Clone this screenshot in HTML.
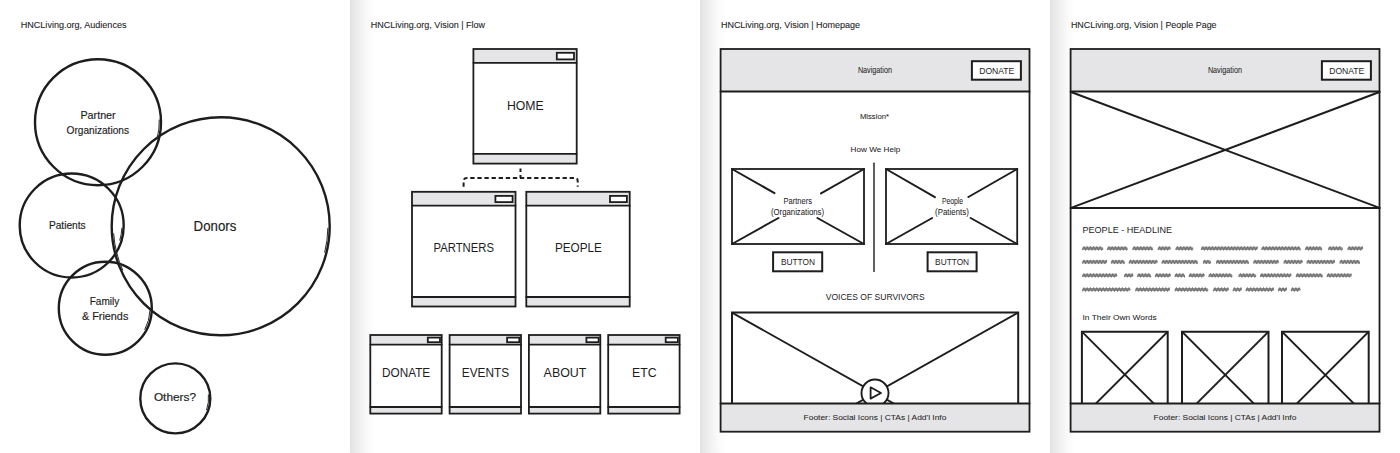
<!DOCTYPE html>
<html><head><meta charset="utf-8"><style>
html,body{margin:0;padding:0;background:#fff;width:1400px;height:453px;overflow:hidden}
.wrap{position:relative;width:1400px;height:453px;background:#fff}
.sh{position:absolute;top:0;width:30px;height:453px;background:linear-gradient(to right,#e2e2e2 0px,#e8e8e8 4px,#eeeeee 8px,#f4f4f4 13px,#fafafa 18px,#fdfdfd 22px,#fff 26px)}
svg{position:absolute;left:0;top:0}
text.h{font-family:"Liberation Sans",sans-serif}
text.s{font-family:"Liberation Sans",sans-serif}
</style></head><body><div class="wrap">
<div class="sh" style="left:350px"></div><div class="sh" style="left:700px"></div><div class="sh" style="left:1050px"></div>
<svg width="1400" height="453" viewBox="0 0 1400 453">
<defs><filter id="bl" x="-10%" y="-50%" width="120%" height="200%"><feGaussianBlur stdDeviation="0.55"/></filter></defs>
<text class="s" x="20.7" y="28.1" font-size="9.01" textLength="105.80" lengthAdjust="spacingAndGlyphs" fill="#1f1f1f" stroke="#1f1f1f" stroke-width="0.1" font-weight="normal">HNCLiving.org, Audiences</text>
<circle cx="98" cy="122.2" r="63" fill="none" stroke="#1d1d1d" stroke-width="2.4"/>
<circle cx="71.7" cy="225.5" r="52" fill="none" stroke="#1d1d1d" stroke-width="2.4"/>
<circle cx="220.7" cy="226.3" r="109" fill="none" stroke="#1d1d1d" stroke-width="2.4"/>
<circle cx="105.3" cy="308.3" r="46.5" fill="none" stroke="#1d1d1d" stroke-width="2.4"/>
<circle cx="175.3" cy="398.4" r="35" fill="none" stroke="#1d1d1d" stroke-width="2.4"/>
<path d="M159.26 120.06 A61.3 61.3 0 0 1 156.93 139.10" fill="none" stroke="#2a2a2a" stroke-width="1.0" stroke-linecap="round"/>
<path d="M121.93 228.13 A50.3 50.3 0 0 1 119.80 240.21" fill="none" stroke="#2a2a2a" stroke-width="1.0" stroke-linecap="round"/>
<path d="M327.88 228.17 A107.2 107.2 0 0 1 324.72 252.23" fill="none" stroke="#2a2a2a" stroke-width="1.0" stroke-linecap="round"/>
<path d="M122.68 269.94 A107.3 107.3 0 0 1 113.66 233.78" fill="none" stroke="#2a2a2a" stroke-width="1.0" stroke-linecap="round"/>
<path d="M150.04 310.64 A44.8 44.8 0 0 1 144.86 329.33" fill="none" stroke="#2a2a2a" stroke-width="1.0" stroke-linecap="round"/>
<path d="M208.42 394.92 A33.3 33.3 0 0 1 206.59 409.79" fill="none" stroke="#2a2a2a" stroke-width="1.0" stroke-linecap="round"/>
<text class="h" x="80.4" y="118.9" font-size="11.00" textLength="35.30" lengthAdjust="spacingAndGlyphs" fill="#1d1d1d" stroke="#1d1d1d" stroke-width="0.16" font-weight="normal">Partner</text>
<text class="h" x="66.5" y="134.3" font-size="10.49" textLength="62.50" lengthAdjust="spacingAndGlyphs" fill="#1d1d1d" stroke="#1d1d1d" stroke-width="0.16" font-weight="normal">Organizations</text>
<text class="h" x="48.9" y="229.2" font-size="10.74" textLength="36.80" lengthAdjust="spacingAndGlyphs" fill="#1d1d1d" stroke="#1d1d1d" stroke-width="0.16" font-weight="normal">Patients</text>
<text class="h" x="193.6" y="230.5" font-size="14.71" textLength="42.70" lengthAdjust="spacingAndGlyphs" fill="#1d1d1d" stroke="#1d1d1d" stroke-width="0.16" font-weight="normal">Donors</text>
<text class="h" x="89.7" y="304.7" font-size="10.74" textLength="29.70" lengthAdjust="spacingAndGlyphs" fill="#1d1d1d" stroke="#1d1d1d" stroke-width="0.16" font-weight="normal">Family</text>
<text class="h" x="82" y="319.7" font-size="11.00" textLength="46.30" lengthAdjust="spacingAndGlyphs" fill="#1d1d1d" stroke="#1d1d1d" stroke-width="0.16" font-weight="normal">&amp; Friends</text>
<text class="h" x="153.9" y="400.5" font-size="10.23" textLength="42.10" lengthAdjust="spacingAndGlyphs" fill="#1d1d1d" stroke="#1d1d1d" stroke-width="0.16" font-weight="normal">Others?</text>
<text class="s" x="370.8" y="28.1" font-size="9.01" textLength="114.20" lengthAdjust="spacingAndGlyphs" fill="#1f1f1f" stroke="#1f1f1f" stroke-width="0.1" font-weight="normal">HNCLiving.org, Vision | Flow</text>
<rect x="473.4" y="49" width="103.30" height="13.80" fill="#e5e5e7"/>
<rect x="473.4" y="153.9" width="103.30" height="9.70" fill="#e5e5e7"/>
<rect x="473.4" y="49" width="103.30" height="114.60" fill="none" stroke="#1d1d1d" stroke-width="1.8"/>
<line x1="473.4" y1="62.8" x2="576.7" y2="62.8" stroke="#1d1d1d" stroke-width="1.8" stroke-linecap="round" stroke-linecap="butt"/>
<line x1="473.4" y1="153.9" x2="576.7" y2="153.9" stroke="#1d1d1d" stroke-width="1.8" stroke-linecap="round" stroke-linecap="butt"/>
<rect x="556.8" y="52.8" width="17.20" height="6.60" fill="#fff" stroke="#1d1d1d" stroke-width="1.8"/>
<text class="h" x="506.9" y="109.5" font-size="12.79" textLength="36.80" lengthAdjust="spacingAndGlyphs" fill="#1d1d1d" stroke="#1d1d1d" stroke-width="0.0" font-weight="normal">HOME</text>
<path d="M520.5 168.5 V178" stroke="#1d1d1d" stroke-width="2" stroke-dasharray="3.5 3" fill="none"/>
<path d="M463.6 186.8 V181 Q463.6 177.9 467 177.9 H574.5 Q577.7 177.9 577.7 181 V186.8" stroke="#1d1d1d" stroke-width="2" stroke-dasharray="4.3 2.8" fill="none"/>
<rect x="412" y="191.8" width="103.50" height="13.90" fill="#e5e5e7"/>
<rect x="412" y="297" width="103.50" height="9.50" fill="#e5e5e7"/>
<rect x="412" y="191.8" width="103.50" height="114.70" fill="none" stroke="#1d1d1d" stroke-width="1.8"/>
<line x1="412" y1="205.7" x2="515.5" y2="205.7" stroke="#1d1d1d" stroke-width="1.8" stroke-linecap="round" stroke-linecap="butt"/>
<line x1="412" y1="297" x2="515.5" y2="297" stroke="#1d1d1d" stroke-width="1.8" stroke-linecap="round" stroke-linecap="butt"/>
<rect x="495.4" y="195.9" width="17.20" height="6.20" fill="#fff" stroke="#1d1d1d" stroke-width="1.8"/>
<rect x="526.3" y="191.8" width="103.40" height="13.90" fill="#e5e5e7"/>
<rect x="526.3" y="297" width="103.40" height="9.50" fill="#e5e5e7"/>
<rect x="526.3" y="191.8" width="103.40" height="114.70" fill="none" stroke="#1d1d1d" stroke-width="1.8"/>
<line x1="526.3" y1="205.7" x2="629.7" y2="205.7" stroke="#1d1d1d" stroke-width="1.8" stroke-linecap="round" stroke-linecap="butt"/>
<line x1="526.3" y1="297" x2="629.7" y2="297" stroke="#1d1d1d" stroke-width="1.8" stroke-linecap="round" stroke-linecap="butt"/>
<rect x="610" y="195.9" width="16.90" height="6.20" fill="#fff" stroke="#1d1d1d" stroke-width="1.8"/>
<text class="h" x="433.6" y="252.1" font-size="13.08" textLength="60.30" lengthAdjust="spacingAndGlyphs" fill="#1d1d1d" stroke="#1d1d1d" stroke-width="0.0" font-weight="normal">PARTNERS</text>
<text class="h" x="554.9" y="251.9" font-size="12.79" textLength="47.00" lengthAdjust="spacingAndGlyphs" fill="#1d1d1d" stroke="#1d1d1d" stroke-width="0.0" font-weight="normal">PEOPLE</text>
<rect x="370.3" y="335" width="71.40" height="9.60" fill="#e5e5e7"/>
<rect x="370.3" y="407" width="71.40" height="6.60" fill="#e5e5e7"/>
<rect x="370.3" y="335" width="71.40" height="78.60" fill="none" stroke="#1d1d1d" stroke-width="1.8"/>
<line x1="370.3" y1="344.6" x2="441.70000000000005" y2="344.6" stroke="#1d1d1d" stroke-width="1.8" stroke-linecap="round" stroke-linecap="butt"/>
<line x1="370.3" y1="407" x2="441.70000000000005" y2="407" stroke="#1d1d1d" stroke-width="1.8" stroke-linecap="round" stroke-linecap="butt"/>
<rect x="427.80000000000007" y="337.6" width="12.20" height="4.60" fill="#fff" stroke="#1d1d1d" stroke-width="1.8"/>
<text class="h" x="382" y="377.1" font-size="12.35" textLength="48.20" lengthAdjust="spacingAndGlyphs" fill="#1d1d1d" stroke="#1d1d1d" stroke-width="0.0" font-weight="normal">DONATE</text>
<rect x="449.6" y="335" width="71.40" height="9.60" fill="#e5e5e7"/>
<rect x="449.6" y="407" width="71.40" height="6.60" fill="#e5e5e7"/>
<rect x="449.6" y="335" width="71.40" height="78.60" fill="none" stroke="#1d1d1d" stroke-width="1.8"/>
<line x1="449.6" y1="344.6" x2="521.0" y2="344.6" stroke="#1d1d1d" stroke-width="1.8" stroke-linecap="round" stroke-linecap="butt"/>
<line x1="449.6" y1="407" x2="521.0" y2="407" stroke="#1d1d1d" stroke-width="1.8" stroke-linecap="round" stroke-linecap="butt"/>
<rect x="507.1" y="337.6" width="12.20" height="4.60" fill="#fff" stroke="#1d1d1d" stroke-width="1.8"/>
<text class="h" x="461.8" y="377.1" font-size="12.35" textLength="47.20" lengthAdjust="spacingAndGlyphs" fill="#1d1d1d" stroke="#1d1d1d" stroke-width="0.0" font-weight="normal">EVENTS</text>
<rect x="528.9" y="335" width="71.40" height="9.60" fill="#e5e5e7"/>
<rect x="528.9" y="407" width="71.40" height="6.60" fill="#e5e5e7"/>
<rect x="528.9" y="335" width="71.40" height="78.60" fill="none" stroke="#1d1d1d" stroke-width="1.8"/>
<line x1="528.9" y1="344.6" x2="600.3" y2="344.6" stroke="#1d1d1d" stroke-width="1.8" stroke-linecap="round" stroke-linecap="butt"/>
<line x1="528.9" y1="407" x2="600.3" y2="407" stroke="#1d1d1d" stroke-width="1.8" stroke-linecap="round" stroke-linecap="butt"/>
<rect x="586.4" y="337.6" width="12.20" height="4.60" fill="#fff" stroke="#1d1d1d" stroke-width="1.8"/>
<text class="h" x="543.6" y="377.1" font-size="12.35" textLength="42.80" lengthAdjust="spacingAndGlyphs" fill="#1d1d1d" stroke="#1d1d1d" stroke-width="0.0" font-weight="normal">ABOUT</text>
<rect x="608.2" y="335" width="71.40" height="9.60" fill="#e5e5e7"/>
<rect x="608.2" y="407" width="71.40" height="6.60" fill="#e5e5e7"/>
<rect x="608.2" y="335" width="71.40" height="78.60" fill="none" stroke="#1d1d1d" stroke-width="1.8"/>
<line x1="608.2" y1="344.6" x2="679.6" y2="344.6" stroke="#1d1d1d" stroke-width="1.8" stroke-linecap="round" stroke-linecap="butt"/>
<line x1="608.2" y1="407" x2="679.6" y2="407" stroke="#1d1d1d" stroke-width="1.8" stroke-linecap="round" stroke-linecap="butt"/>
<rect x="665.7" y="337.6" width="12.20" height="4.60" fill="#fff" stroke="#1d1d1d" stroke-width="1.8"/>
<text class="h" x="632" y="377.1" font-size="12.35" textLength="24.60" lengthAdjust="spacingAndGlyphs" fill="#1d1d1d" stroke="#1d1d1d" stroke-width="0.0" font-weight="normal">ETC</text>
<text class="s" x="720.9" y="28.1" font-size="9.01" textLength="139.10" lengthAdjust="spacingAndGlyphs" fill="#1f1f1f" stroke="#1f1f1f" stroke-width="0.1" font-weight="normal">HNCLiving.org, Vision | Homepage</text>
<rect x="720.6" y="49" width="308.90" height="42.40" fill="#e5e5e7"/>
<rect x="720.6" y="403.4" width="308.90" height="28.30" fill="#e5e5e7"/>
<text class="h" x="859.9" y="118.5" font-size="8.06" textLength="29.10" lengthAdjust="spacingAndGlyphs" fill="#1d1d1d" stroke="#1d1d1d" stroke-width="0.05" font-weight="normal">Mission*</text>
<text class="h" x="850.6" y="151.7" font-size="7.80" textLength="49.70" lengthAdjust="spacingAndGlyphs" fill="#1d1d1d" stroke="#1d1d1d" stroke-width="0.05" font-weight="normal">How We Help</text>
<rect x="732" y="169" width="132.00" height="75.00" fill="none" stroke="#1d1d1d" stroke-width="1.8"/>
<line x1="732" y1="169" x2="774.5" y2="193.1" stroke="#1d1d1d" stroke-width="2" stroke-linecap="round" />
<line x1="864" y1="169" x2="821" y2="193.4" stroke="#1d1d1d" stroke-width="2" stroke-linecap="round" />
<line x1="732" y1="244" x2="778.5" y2="218" stroke="#1d1d1d" stroke-width="2" stroke-linecap="round" />
<line x1="864" y1="244" x2="817.4" y2="218" stroke="#1d1d1d" stroke-width="2" stroke-linecap="round" />
<text class="h" x="783.4" y="203.5" font-size="8.70" textLength="28.60" lengthAdjust="spacingAndGlyphs" fill="#1d1d1d" stroke="#1d1d1d" stroke-width="0.05" font-weight="normal">Partners</text>
<text class="h" x="771" y="214.6" font-size="8.70" textLength="53.00" lengthAdjust="spacingAndGlyphs" fill="#1d1d1d" stroke="#1d1d1d" stroke-width="0.05" font-weight="normal">(Organizations)</text>
<rect x="886" y="169" width="131.20" height="75.00" fill="none" stroke="#1d1d1d" stroke-width="1.8"/>
<line x1="886" y1="169" x2="934.9" y2="197.2" stroke="#1d1d1d" stroke-width="2" stroke-linecap="round" />
<line x1="1017.2" y1="169" x2="968.4" y2="197" stroke="#1d1d1d" stroke-width="2" stroke-linecap="round" />
<line x1="886" y1="244" x2="932.2" y2="218" stroke="#1d1d1d" stroke-width="2" stroke-linecap="round" />
<line x1="1017.2" y1="244" x2="970.6" y2="218" stroke="#1d1d1d" stroke-width="2" stroke-linecap="round" />
<text class="h" x="941.9" y="203.5" font-size="8.70" textLength="21.20" lengthAdjust="spacingAndGlyphs" fill="#1d1d1d" stroke="#1d1d1d" stroke-width="0.05" font-weight="normal">People</text>
<text class="h" x="935.1" y="214.6" font-size="8.70" textLength="33.70" lengthAdjust="spacingAndGlyphs" fill="#1d1d1d" stroke="#1d1d1d" stroke-width="0.05" font-weight="normal">(Patients)</text>
<line x1="874" y1="163.2" x2="874" y2="271.4" stroke="#1d1d1d" stroke-width="1.4" stroke-linecap="round" />
<rect x="773.1" y="252.3" width="49.10" height="19.00" fill="none" stroke="#1d1d1d" stroke-width="2"/>
<rect x="927.6" y="252.3" width="49.00" height="19.00" fill="none" stroke="#1d1d1d" stroke-width="2"/>
<text class="h" x="780.9" y="265.2" font-size="8.72" textLength="34.10" lengthAdjust="spacingAndGlyphs" fill="#1d1d1d" stroke="#1d1d1d" stroke-width="0.0" font-weight="normal">BUTTON</text>
<text class="h" x="935.1" y="265.2" font-size="8.72" textLength="34.00" lengthAdjust="spacingAndGlyphs" fill="#1d1d1d" stroke="#1d1d1d" stroke-width="0.0" font-weight="normal">BUTTON</text>
<text class="h" x="825.7" y="300.4" font-size="9.88" textLength="99.00" lengthAdjust="spacingAndGlyphs" fill="#1d1d1d" stroke="#1d1d1d" stroke-width="0.0" font-weight="normal">VOICES OF SURVIVORS</text>
<path d="M732 403.4 V312.6 H1018.2 V403.4" stroke="#1d1d1d" stroke-width="2" fill="none"/>
<clipPath id="vclip"><rect x="732" y="312" width="287" height="91.4"/></clipPath>
<g clip-path="url(#vclip)"><line x1="732" y1="312.6" x2="1018.2" y2="473.5" stroke="#1d1d1d" stroke-width="1.9"/><line x1="1018.2" y1="312.6" x2="732" y2="473.5" stroke="#1d1d1d" stroke-width="1.9"/>
<circle cx="875" cy="393" r="13.5" fill="#fff" stroke="#1d1d1d" stroke-width="1.9"/></g>
<path d="M870.6 387.3 L881 393 L870.6 398.6 Z" fill="none" stroke="#1d1d1d" stroke-width="1.8" stroke-linejoin="round"/>
<rect x="720.6" y="49" width="308.90" height="382.70" fill="none" stroke="#1d1d1d" stroke-width="1.8"/>
<line x1="720.6" y1="91.4" x2="1029.5" y2="91.4" stroke="#1d1d1d" stroke-width="2" stroke-linecap="round" stroke-linecap="butt"/>
<line x1="720.6" y1="403.4" x2="1029.5" y2="403.4" stroke="#1d1d1d" stroke-width="2" stroke-linecap="round" stroke-linecap="butt"/>
<rect x="971.9" y="61.2" width="49.00" height="18.50" fill="#fff" stroke="#1d1d1d" stroke-width="2"/>
<text class="h" x="857.9" y="72.9" font-size="8.19" textLength="34.10" lengthAdjust="spacingAndGlyphs" fill="#1d1d1d" stroke="#1d1d1d" stroke-width="0.05" font-weight="normal">Navigation</text>
<text class="h" x="979.2" y="73.8" font-size="9.59" textLength="35.10" lengthAdjust="spacingAndGlyphs" fill="#1d1d1d" stroke="#1d1d1d" stroke-width="0.0" font-weight="normal">DONATE</text>
<text class="h" x="803.6" y="420.4" font-size="8.06" textLength="142.80" lengthAdjust="spacingAndGlyphs" fill="#1d1d1d" stroke="#1d1d1d" stroke-width="0.05" font-weight="normal">Footer: Social Icons | CTAs | Add'l Info</text>
<text class="s" x="1070.9" y="28.1" font-size="9.01" textLength="145.70" lengthAdjust="spacingAndGlyphs" fill="#1f1f1f" stroke="#1f1f1f" stroke-width="0.1" font-weight="normal">HNCLiving.org, Vision | People Page</text>
<rect x="1070.6" y="49" width="308.90" height="42.40" fill="#e5e5e7"/>
<rect x="1070.6" y="403.4" width="308.90" height="28.30" fill="#e5e5e7"/>
<line x1="1070.6" y1="207.9" x2="1379.5" y2="207.9" stroke="#1d1d1d" stroke-width="2" stroke-linecap="round" stroke-linecap="butt"/>
<line x1="1071" y1="92" x2="1379.5" y2="207.9" stroke="#1d1d1d" stroke-width="1.9" stroke-linecap="round" />
<line x1="1071" y1="207.9" x2="1379.5" y2="92" stroke="#1d1d1d" stroke-width="1.9" stroke-linecap="round" />
<text class="h" x="1082.5" y="232.9" font-size="9.74" textLength="89.50" lengthAdjust="spacingAndGlyphs" fill="#1d1d1d" stroke="#1d1d1d" stroke-width="0.0" font-weight="normal">PEOPLE - HEADLINE</text>
<g filter="url(#bl)"><rect x="1082.1" y="246.8" width="21.2" height="3.2" rx="1.6" fill="#a0a0a0"/><path d="M1082.40 250.10 L1084.00 246.70 L1085.60 250.10 L1087.20 246.70 L1088.80 250.10 L1090.40 246.70 L1092.00 250.10 L1093.60 246.70 L1095.20 250.10 L1096.80 246.70 L1098.40 250.10 L1100.00 246.70 L1101.60 250.10 L1103.00 248.70" fill="none" stroke="#737373" stroke-width="1.1" stroke-linejoin="round"/></g>
<g filter="url(#bl)"><rect x="1107.1" y="246.8" width="20.6" height="3.2" rx="1.6" fill="#a0a0a0"/><path d="M1107.40 250.10 L1109.00 246.70 L1110.60 250.10 L1112.20 246.70 L1113.80 250.10 L1115.40 246.70 L1117.00 250.10 L1118.60 246.70 L1120.20 250.10 L1121.80 246.70 L1123.40 250.10 L1125.00 246.70 L1126.60 250.10 L1127.40 248.70" fill="none" stroke="#737373" stroke-width="1.1" stroke-linejoin="round"/></g>
<g filter="url(#bl)"><rect x="1132.4" y="246.8" width="20.6" height="3.2" rx="1.6" fill="#a0a0a0"/><path d="M1132.70 250.10 L1134.30 246.70 L1135.90 250.10 L1137.50 246.70 L1139.10 250.10 L1140.70 246.70 L1142.30 250.10 L1143.90 246.70 L1145.50 250.10 L1147.10 246.70 L1148.70 250.10 L1150.30 246.70 L1151.90 250.10 L1152.70 248.70" fill="none" stroke="#737373" stroke-width="1.1" stroke-linejoin="round"/></g>
<g filter="url(#bl)"><rect x="1157.7" y="246.8" width="13.1" height="3.2" rx="1.6" fill="#a0a0a0"/><path d="M1158.00 250.10 L1159.60 246.70 L1161.20 250.10 L1162.80 246.70 L1164.40 250.10 L1166.00 246.70 L1167.60 250.10 L1169.20 246.70 L1170.50 248.70" fill="none" stroke="#737373" stroke-width="1.1" stroke-linejoin="round"/></g>
<g filter="url(#bl)"><rect x="1175.5" y="246.8" width="17.8" height="3.2" rx="1.6" fill="#a0a0a0"/><path d="M1175.80 250.10 L1177.40 246.70 L1179.00 250.10 L1180.60 246.70 L1182.20 250.10 L1183.80 246.70 L1185.40 250.10 L1187.00 246.70 L1188.60 250.10 L1190.20 246.70 L1191.80 250.10 L1193.00 248.70" fill="none" stroke="#737373" stroke-width="1.1" stroke-linejoin="round"/></g>
<g filter="url(#bl)"><rect x="1200.9" y="246.8" width="56.6" height="3.2" rx="1.6" fill="#a0a0a0"/><path d="M1201.20 250.10 L1202.80 246.70 L1204.40 250.10 L1206.00 246.70 L1207.60 250.10 L1209.20 246.70 L1210.80 250.10 L1212.40 246.70 L1214.00 250.10 L1215.60 246.70 L1217.20 250.10 L1218.80 246.70 L1220.40 250.10 L1222.00 246.70 L1223.60 250.10 L1225.20 246.70 L1226.80 250.10 L1228.40 246.70 L1230.00 250.10 L1231.60 246.70 L1233.20 250.10 L1234.80 246.70 L1236.40 250.10 L1238.00 246.70 L1239.60 250.10 L1241.20 246.70 L1242.80 250.10 L1244.40 246.70 L1246.00 250.10 L1247.60 246.70 L1249.20 250.10 L1250.80 246.70 L1252.40 250.10 L1254.00 246.70 L1255.60 250.10 L1257.20 246.70 L1257.20 248.70" fill="none" stroke="#737373" stroke-width="1.1" stroke-linejoin="round"/></g>
<g filter="url(#bl)"><rect x="1261.4" y="246.8" width="39.1" height="3.2" rx="1.6" fill="#a0a0a0"/><path d="M1261.70 250.10 L1263.30 246.70 L1264.90 250.10 L1266.50 246.70 L1268.10 250.10 L1269.70 246.70 L1271.30 250.10 L1272.90 246.70 L1274.50 250.10 L1276.10 246.70 L1277.70 250.10 L1279.30 246.70 L1280.90 250.10 L1282.50 246.70 L1284.10 250.10 L1285.70 246.70 L1287.30 250.10 L1288.90 246.70 L1290.50 250.10 L1292.10 246.70 L1293.70 250.10 L1295.30 246.70 L1296.90 250.10 L1298.50 246.70 L1300.10 250.10 L1300.20 248.70" fill="none" stroke="#737373" stroke-width="1.1" stroke-linejoin="round"/></g>
<g filter="url(#bl)"><rect x="1305.1" y="246.8" width="17.0" height="3.2" rx="1.6" fill="#a0a0a0"/><path d="M1305.40 250.10 L1307.00 246.70 L1308.60 250.10 L1310.20 246.70 L1311.80 250.10 L1313.40 246.70 L1315.00 250.10 L1316.60 246.70 L1318.20 250.10 L1319.80 246.70 L1321.40 250.10 L1321.80 248.70" fill="none" stroke="#737373" stroke-width="1.1" stroke-linejoin="round"/></g>
<g filter="url(#bl)"><rect x="1328.1" y="246.8" width="14.8" height="3.2" rx="1.6" fill="#a0a0a0"/><path d="M1328.40 250.10 L1330.00 246.70 L1331.60 250.10 L1333.20 246.70 L1334.80 250.10 L1336.40 246.70 L1338.00 250.10 L1339.60 246.70 L1341.20 250.10 L1342.60 248.70" fill="none" stroke="#737373" stroke-width="1.1" stroke-linejoin="round"/></g>
<g filter="url(#bl)"><rect x="1347.5" y="246.8" width="15.5" height="3.2" rx="1.6" fill="#a0a0a0"/><path d="M1347.80 250.10 L1349.40 246.70 L1351.00 250.10 L1352.60 246.70 L1354.20 250.10 L1355.80 246.70 L1357.40 250.10 L1359.00 246.70 L1360.60 250.10 L1362.20 246.70 L1362.70 248.70" fill="none" stroke="#737373" stroke-width="1.1" stroke-linejoin="round"/></g>
<g filter="url(#bl)"><rect x="1082.1" y="260.3" width="24.9" height="3.2" rx="1.6" fill="#a0a0a0"/><path d="M1082.40 263.60 L1084.00 260.20 L1085.60 263.60 L1087.20 260.20 L1088.80 263.60 L1090.40 260.20 L1092.00 263.60 L1093.60 260.20 L1095.20 263.60 L1096.80 260.20 L1098.40 263.60 L1100.00 260.20 L1101.60 263.60 L1103.20 260.20 L1104.80 263.60 L1106.40 260.20 L1106.70 262.20" fill="none" stroke="#737373" stroke-width="1.1" stroke-linejoin="round"/></g>
<g filter="url(#bl)"><rect x="1110.8" y="260.3" width="14.0" height="3.2" rx="1.6" fill="#a0a0a0"/><path d="M1111.10 263.60 L1112.70 260.20 L1114.30 263.60 L1115.90 260.20 L1117.50 263.60 L1119.10 260.20 L1120.70 263.60 L1122.30 260.20 L1123.90 263.60 L1124.50 262.20" fill="none" stroke="#737373" stroke-width="1.1" stroke-linejoin="round"/></g>
<g filter="url(#bl)"><rect x="1128.7" y="260.3" width="29.0" height="3.2" rx="1.6" fill="#a0a0a0"/><path d="M1129.00 263.60 L1130.60 260.20 L1132.20 263.60 L1133.80 260.20 L1135.40 263.60 L1137.00 260.20 L1138.60 263.60 L1140.20 260.20 L1141.80 263.60 L1143.40 260.20 L1145.00 263.60 L1146.60 260.20 L1148.20 263.60 L1149.80 260.20 L1151.40 263.60 L1153.00 260.20 L1154.60 263.60 L1156.20 260.20 L1157.40 262.20" fill="none" stroke="#737373" stroke-width="1.1" stroke-linejoin="round"/></g>
<g filter="url(#bl)"><rect x="1161.5" y="260.3" width="36.5" height="3.2" rx="1.6" fill="#a0a0a0"/><path d="M1161.80 263.60 L1163.40 260.20 L1165.00 263.60 L1166.60 260.20 L1168.20 263.60 L1169.80 260.20 L1171.40 263.60 L1173.00 260.20 L1174.60 263.60 L1176.20 260.20 L1177.80 263.60 L1179.40 260.20 L1181.00 263.60 L1182.60 260.20 L1184.20 263.60 L1185.80 260.20 L1187.40 263.60 L1189.00 260.20 L1190.60 263.60 L1192.20 260.20 L1193.80 263.60 L1195.40 260.20 L1197.00 263.60 L1197.70 262.20" fill="none" stroke="#737373" stroke-width="1.1" stroke-linejoin="round"/></g>
<g filter="url(#bl)"><rect x="1202.8" y="260.3" width="8.3" height="3.2" rx="1.6" fill="#a0a0a0"/><path d="M1203.10 263.60 L1204.70 260.20 L1206.30 263.60 L1207.90 260.20 L1209.50 263.60 L1210.80 262.20" fill="none" stroke="#737373" stroke-width="1.1" stroke-linejoin="round"/></g>
<g filter="url(#bl)"><rect x="1215.9" y="260.3" width="33.0" height="3.2" rx="1.6" fill="#a0a0a0"/><path d="M1216.20 263.60 L1217.80 260.20 L1219.40 263.60 L1221.00 260.20 L1222.60 263.60 L1224.20 260.20 L1225.80 263.60 L1227.40 260.20 L1229.00 263.60 L1230.60 260.20 L1232.20 263.60 L1233.80 260.20 L1235.40 263.60 L1237.00 260.20 L1238.60 263.60 L1240.20 260.20 L1241.80 263.60 L1243.40 260.20 L1245.00 263.60 L1246.60 260.20 L1248.20 263.60 L1248.60 262.20" fill="none" stroke="#737373" stroke-width="1.1" stroke-linejoin="round"/></g>
<g filter="url(#bl)"><rect x="1253.2" y="260.3" width="25.8" height="3.2" rx="1.6" fill="#a0a0a0"/><path d="M1253.50 263.60 L1255.10 260.20 L1256.70 263.60 L1258.30 260.20 L1259.90 263.60 L1261.50 260.20 L1263.10 263.60 L1264.70 260.20 L1266.30 263.60 L1267.90 260.20 L1269.50 263.60 L1271.10 260.20 L1272.70 263.60 L1274.30 260.20 L1275.90 263.60 L1277.50 260.20 L1278.70 262.20" fill="none" stroke="#737373" stroke-width="1.1" stroke-linejoin="round"/></g>
<g filter="url(#bl)"><rect x="1283.5" y="260.3" width="19.2" height="3.2" rx="1.6" fill="#a0a0a0"/><path d="M1283.80 263.60 L1285.40 260.20 L1287.00 263.60 L1288.60 260.20 L1290.20 263.60 L1291.80 260.20 L1293.40 263.60 L1295.00 260.20 L1296.60 263.60 L1298.20 260.20 L1299.80 263.60 L1301.40 260.20 L1302.40 262.20" fill="none" stroke="#737373" stroke-width="1.1" stroke-linejoin="round"/></g>
<g filter="url(#bl)"><rect x="1306.5" y="260.3" width="28.5" height="3.2" rx="1.6" fill="#a0a0a0"/><path d="M1306.80 263.60 L1308.40 260.20 L1310.00 263.60 L1311.60 260.20 L1313.20 263.60 L1314.80 260.20 L1316.40 263.60 L1318.00 260.20 L1319.60 263.60 L1321.20 260.20 L1322.80 263.60 L1324.40 260.20 L1326.00 263.60 L1327.60 260.20 L1329.20 263.60 L1330.80 260.20 L1332.40 263.60 L1334.00 260.20 L1334.70 262.20" fill="none" stroke="#737373" stroke-width="1.1" stroke-linejoin="round"/></g>
<g filter="url(#bl)"><rect x="1339.5" y="260.3" width="20.6" height="3.2" rx="1.6" fill="#a0a0a0"/><path d="M1339.80 263.60 L1341.40 260.20 L1343.00 263.60 L1344.60 260.20 L1346.20 263.60 L1347.80 260.20 L1349.40 263.60 L1351.00 260.20 L1352.60 263.60 L1354.20 260.20 L1355.80 263.60 L1357.40 260.20 L1359.00 263.60 L1359.80 262.20" fill="none" stroke="#737373" stroke-width="1.1" stroke-linejoin="round"/></g>
<g filter="url(#bl)"><rect x="1082.1" y="273.8" width="35.2" height="3.2" rx="1.6" fill="#a0a0a0"/><path d="M1082.40 277.10 L1084.00 273.70 L1085.60 277.10 L1087.20 273.70 L1088.80 277.10 L1090.40 273.70 L1092.00 277.10 L1093.60 273.70 L1095.20 277.10 L1096.80 273.70 L1098.40 277.10 L1100.00 273.70 L1101.60 277.10 L1103.20 273.70 L1104.80 277.10 L1106.40 273.70 L1108.00 277.10 L1109.60 273.70 L1111.20 277.10 L1112.80 273.70 L1114.40 277.10 L1116.00 273.70 L1117.00 275.70" fill="none" stroke="#737373" stroke-width="1.1" stroke-linejoin="round"/></g>
<g filter="url(#bl)"><rect x="1124.0" y="273.8" width="9.3" height="3.2" rx="1.6" fill="#a0a0a0"/><path d="M1124.30 277.10 L1125.90 273.70 L1127.50 277.10 L1129.10 273.70 L1130.70 277.10 L1132.30 273.70 L1133.00 275.70" fill="none" stroke="#737373" stroke-width="1.1" stroke-linejoin="round"/></g>
<g filter="url(#bl)"><rect x="1137.1" y="273.8" width="14.0" height="3.2" rx="1.6" fill="#a0a0a0"/><path d="M1137.40 277.10 L1139.00 273.70 L1140.60 277.10 L1142.20 273.70 L1143.80 277.10 L1145.40 273.70 L1147.00 277.10 L1148.60 273.70 L1150.20 277.10 L1150.80 275.70" fill="none" stroke="#737373" stroke-width="1.1" stroke-linejoin="round"/></g>
<g filter="url(#bl)"><rect x="1154.9" y="273.8" width="15.9" height="3.2" rx="1.6" fill="#a0a0a0"/><path d="M1155.20 277.10 L1156.80 273.70 L1158.40 277.10 L1160.00 273.70 L1161.60 277.10 L1163.20 273.70 L1164.80 277.10 L1166.40 273.70 L1168.00 277.10 L1169.60 273.70 L1170.50 275.70" fill="none" stroke="#737373" stroke-width="1.1" stroke-linejoin="round"/></g>
<g filter="url(#bl)"><rect x="1174.6" y="273.8" width="10.3" height="3.2" rx="1.6" fill="#a0a0a0"/><path d="M1174.90 277.10 L1176.50 273.70 L1178.10 277.10 L1179.70 273.70 L1181.30 277.10 L1182.90 273.70 L1184.50 277.10 L1184.60 275.70" fill="none" stroke="#737373" stroke-width="1.1" stroke-linejoin="round"/></g>
<g filter="url(#bl)"><rect x="1188.7" y="273.8" width="15.9" height="3.2" rx="1.6" fill="#a0a0a0"/><path d="M1189.00 277.10 L1190.60 273.70 L1192.20 277.10 L1193.80 273.70 L1195.40 277.10 L1197.00 273.70 L1198.60 277.10 L1200.20 273.70 L1201.80 277.10 L1203.40 273.70 L1204.30 275.70" fill="none" stroke="#737373" stroke-width="1.1" stroke-linejoin="round"/></g>
<g filter="url(#bl)"><rect x="1208.5" y="273.8" width="23.9" height="3.2" rx="1.6" fill="#a0a0a0"/><path d="M1208.80 277.10 L1210.40 273.70 L1212.00 277.10 L1213.60 273.70 L1215.20 277.10 L1216.80 273.70 L1218.40 277.10 L1220.00 273.70 L1221.60 277.10 L1223.20 273.70 L1224.80 277.10 L1226.40 273.70 L1228.00 277.10 L1229.60 273.70 L1231.20 277.10 L1232.10 275.70" fill="none" stroke="#737373" stroke-width="1.1" stroke-linejoin="round"/></g>
<g filter="url(#bl)"><rect x="1238.5" y="273.8" width="17.6" height="3.2" rx="1.6" fill="#a0a0a0"/><path d="M1238.80 277.10 L1240.40 273.70 L1242.00 277.10 L1243.60 273.70 L1245.20 277.10 L1246.80 273.70 L1248.40 277.10 L1250.00 273.70 L1251.60 277.10 L1253.20 273.70 L1254.80 277.10 L1255.80 275.70" fill="none" stroke="#737373" stroke-width="1.1" stroke-linejoin="round"/></g>
<g filter="url(#bl)"><rect x="1260.0" y="273.8" width="31.2" height="3.2" rx="1.6" fill="#a0a0a0"/><path d="M1260.30 277.10 L1261.90 273.70 L1263.50 277.10 L1265.10 273.70 L1266.70 277.10 L1268.30 273.70 L1269.90 277.10 L1271.50 273.70 L1273.10 277.10 L1274.70 273.70 L1276.30 277.10 L1277.90 273.70 L1279.50 277.10 L1281.10 273.70 L1282.70 277.10 L1284.30 273.70 L1285.90 277.10 L1287.50 273.70 L1289.10 277.10 L1290.70 273.70 L1290.90 275.70" fill="none" stroke="#737373" stroke-width="1.1" stroke-linejoin="round"/></g>
<g filter="url(#bl)"><rect x="1295.8" y="273.8" width="27.0" height="3.2" rx="1.6" fill="#a0a0a0"/><path d="M1296.10 277.10 L1297.70 273.70 L1299.30 277.10 L1300.90 273.70 L1302.50 277.10 L1304.10 273.70 L1305.70 277.10 L1307.30 273.70 L1308.90 277.10 L1310.50 273.70 L1312.10 277.10 L1313.70 273.70 L1315.30 277.10 L1316.90 273.70 L1318.50 277.10 L1320.10 273.70 L1321.70 277.10 L1322.50 275.70" fill="none" stroke="#737373" stroke-width="1.1" stroke-linejoin="round"/></g>
<g filter="url(#bl)"><rect x="1326.7" y="273.8" width="24.8" height="3.2" rx="1.6" fill="#a0a0a0"/><path d="M1327.00 277.10 L1328.60 273.70 L1330.20 277.10 L1331.80 273.70 L1333.40 277.10 L1335.00 273.70 L1336.60 277.10 L1338.20 273.70 L1339.80 277.10 L1341.40 273.70 L1343.00 277.10 L1344.60 273.70 L1346.20 277.10 L1347.80 273.70 L1349.40 277.10 L1351.00 273.70 L1351.20 275.70" fill="none" stroke="#737373" stroke-width="1.1" stroke-linejoin="round"/></g>
<g filter="url(#bl)"><rect x="1082.1" y="287.9" width="48.4" height="3.2" rx="1.6" fill="#a0a0a0"/><path d="M1082.40 291.20 L1084.00 287.80 L1085.60 291.20 L1087.20 287.80 L1088.80 291.20 L1090.40 287.80 L1092.00 291.20 L1093.60 287.80 L1095.20 291.20 L1096.80 287.80 L1098.40 291.20 L1100.00 287.80 L1101.60 291.20 L1103.20 287.80 L1104.80 291.20 L1106.40 287.80 L1108.00 291.20 L1109.60 287.80 L1111.20 291.20 L1112.80 287.80 L1114.40 291.20 L1116.00 287.80 L1117.60 291.20 L1119.20 287.80 L1120.80 291.20 L1122.40 287.80 L1124.00 291.20 L1125.60 287.80 L1127.20 291.20 L1128.80 287.80 L1130.20 289.80" fill="none" stroke="#737373" stroke-width="1.1" stroke-linejoin="round"/></g>
<g filter="url(#bl)"><rect x="1135.2" y="287.9" width="34.7" height="3.2" rx="1.6" fill="#a0a0a0"/><path d="M1135.50 291.20 L1137.10 287.80 L1138.70 291.20 L1140.30 287.80 L1141.90 291.20 L1143.50 287.80 L1145.10 291.20 L1146.70 287.80 L1148.30 291.20 L1149.90 287.80 L1151.50 291.20 L1153.10 287.80 L1154.70 291.20 L1156.30 287.80 L1157.90 291.20 L1159.50 287.80 L1161.10 291.20 L1162.70 287.80 L1164.30 291.20 L1165.90 287.80 L1167.50 291.20 L1169.10 287.80 L1169.60 289.80" fill="none" stroke="#737373" stroke-width="1.1" stroke-linejoin="round"/></g>
<g filter="url(#bl)"><rect x="1174.6" y="287.9" width="33.7" height="3.2" rx="1.6" fill="#a0a0a0"/><path d="M1174.90 291.20 L1176.50 287.80 L1178.10 291.20 L1179.70 287.80 L1181.30 291.20 L1182.90 287.80 L1184.50 291.20 L1186.10 287.80 L1187.70 291.20 L1189.30 287.80 L1190.90 291.20 L1192.50 287.80 L1194.10 291.20 L1195.70 287.80 L1197.30 291.20 L1198.90 287.80 L1200.50 291.20 L1202.10 287.80 L1203.70 291.20 L1205.30 287.80 L1206.90 291.20 L1208.00 289.80" fill="none" stroke="#737373" stroke-width="1.1" stroke-linejoin="round"/></g>
<g filter="url(#bl)"><rect x="1213.1" y="287.9" width="15.7" height="3.2" rx="1.6" fill="#a0a0a0"/><path d="M1213.40 291.20 L1215.00 287.80 L1216.60 291.20 L1218.20 287.80 L1219.80 291.20 L1221.40 287.80 L1223.00 291.20 L1224.60 287.80 L1226.20 291.20 L1227.80 287.80 L1228.50 289.80" fill="none" stroke="#737373" stroke-width="1.1" stroke-linejoin="round"/></g>
<g filter="url(#bl)"><rect x="1232.7" y="287.9" width="9.0" height="3.2" rx="1.6" fill="#a0a0a0"/><path d="M1233.00 291.20 L1234.60 287.80 L1236.20 291.20 L1237.80 287.80 L1239.40 291.20 L1241.00 287.80 L1241.40 289.80" fill="none" stroke="#737373" stroke-width="1.1" stroke-linejoin="round"/></g>
<g filter="url(#bl)"><rect x="1245.6" y="287.9" width="28.4" height="3.2" rx="1.6" fill="#a0a0a0"/><path d="M1245.90 291.20 L1247.50 287.80 L1249.10 291.20 L1250.70 287.80 L1252.30 291.20 L1253.90 287.80 L1255.50 291.20 L1257.10 287.80 L1258.70 291.20 L1260.30 287.80 L1261.90 291.20 L1263.50 287.80 L1265.10 291.20 L1266.70 287.80 L1268.30 291.20 L1269.90 287.80 L1271.50 291.20 L1273.10 287.80 L1273.70 289.80" fill="none" stroke="#737373" stroke-width="1.1" stroke-linejoin="round"/></g>
<g filter="url(#bl)"><rect x="1277.9" y="287.9" width="9.0" height="3.2" rx="1.6" fill="#a0a0a0"/><path d="M1278.20 291.20 L1279.80 287.80 L1281.40 291.20 L1283.00 287.80 L1284.60 291.20 L1286.20 287.80 L1286.60 289.80" fill="none" stroke="#737373" stroke-width="1.1" stroke-linejoin="round"/></g>
<g filter="url(#bl)"><rect x="1290.8" y="287.9" width="9.7" height="3.2" rx="1.6" fill="#a0a0a0"/><path d="M1291.10 291.20 L1292.70 287.80 L1294.30 291.20 L1295.90 287.80 L1297.50 291.20 L1299.10 287.80 L1300.20 289.80" fill="none" stroke="#737373" stroke-width="1.1" stroke-linejoin="round"/></g>
<text class="h" x="1082.5" y="319.6" font-size="7.93" textLength="74.10" lengthAdjust="spacingAndGlyphs" fill="#1d1d1d" stroke="#1d1d1d" stroke-width="0.05" font-weight="normal">In Their Own Words</text>
<path d="M1081.9 403.4 V331.7 H1167.7 V403.4" stroke="#1d1d1d" stroke-width="2" fill="none"/>
<clipPath id="c1081"><rect x="1081.9" y="331" width="85.79999999999995" height="72.4"/></clipPath>
<g clip-path="url(#c1081)"><line x1="1081.9" y1="331.7" x2="1167.7" y2="417.49999999999994" stroke="#1d1d1d" stroke-width="1.9"/><line x1="1167.7" y1="331.7" x2="1081.9" y2="417.49999999999994" stroke="#1d1d1d" stroke-width="1.9"/></g>
<path d="M1182 403.4 V331.7 H1268.5 V403.4" stroke="#1d1d1d" stroke-width="2" fill="none"/>
<clipPath id="c1182"><rect x="1182" y="331" width="86.5" height="72.4"/></clipPath>
<g clip-path="url(#c1182)"><line x1="1182" y1="331.7" x2="1268.5" y2="418.2" stroke="#1d1d1d" stroke-width="1.9"/><line x1="1268.5" y1="331.7" x2="1182" y2="418.2" stroke="#1d1d1d" stroke-width="1.9"/></g>
<path d="M1282 403.4 V331.7 H1368.7 V403.4" stroke="#1d1d1d" stroke-width="2" fill="none"/>
<clipPath id="c1282"><rect x="1282" y="331" width="86.70000000000005" height="72.4"/></clipPath>
<g clip-path="url(#c1282)"><line x1="1282" y1="331.7" x2="1368.7" y2="418.40000000000003" stroke="#1d1d1d" stroke-width="1.9"/><line x1="1368.7" y1="331.7" x2="1282" y2="418.40000000000003" stroke="#1d1d1d" stroke-width="1.9"/></g>
<rect x="1070.6" y="49" width="308.90" height="382.70" fill="none" stroke="#1d1d1d" stroke-width="1.8"/>
<line x1="1070.6" y1="91.4" x2="1379.5" y2="91.4" stroke="#1d1d1d" stroke-width="2" stroke-linecap="round" stroke-linecap="butt"/>
<line x1="1070.6" y1="403.4" x2="1379.5" y2="403.4" stroke="#1d1d1d" stroke-width="2" stroke-linecap="round" stroke-linecap="butt"/>
<rect x="1321.9" y="61.2" width="49.00" height="18.50" fill="#fff" stroke="#1d1d1d" stroke-width="2"/>
<text class="h" x="1207.9" y="72.9" font-size="8.19" textLength="34.10" lengthAdjust="spacingAndGlyphs" fill="#1d1d1d" stroke="#1d1d1d" stroke-width="0.05" font-weight="normal">Navigation</text>
<text class="h" x="1329.2" y="73.8" font-size="9.59" textLength="35.10" lengthAdjust="spacingAndGlyphs" fill="#1d1d1d" stroke="#1d1d1d" stroke-width="0.0" font-weight="normal">DONATE</text>
<text class="h" x="1153.6" y="420.4" font-size="8.06" textLength="142.80" lengthAdjust="spacingAndGlyphs" fill="#1d1d1d" stroke="#1d1d1d" stroke-width="0.05" font-weight="normal">Footer: Social Icons | CTAs | Add'l Info</text>
</svg></div></body></html>
